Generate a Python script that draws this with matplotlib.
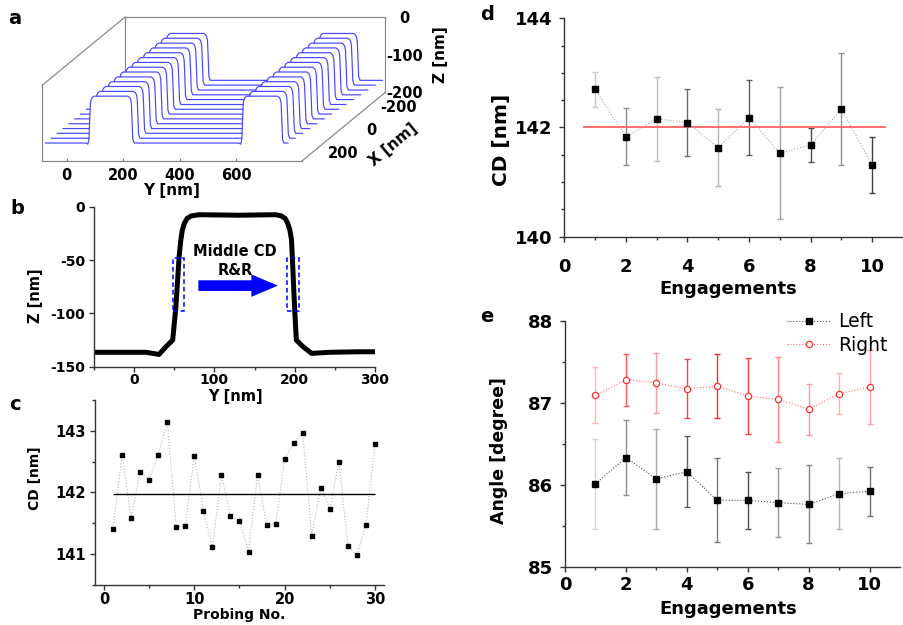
import numpy as np
import matplotlib
matplotlib.use("Agg")
import matplotlib.pyplot as plt
from matplotlib.patches import Rectangle

plt.rcParams['font.family'] = 'DejaVu Sans'
plt.rcParams['font.weight'] = 'bold'
plt.rcParams['axes.labelweight'] = 'bold'
plt.rcParams['axes.unicode_minus'] = False

# ---------------- data ----------------
# a: AFM scan lines, one line profile repeated at each X position
a_scan_x = [275, 233, 190, 148, 106, 63, 21, -21, -63, -106, -148, -190, -233, -275]
a_line_end = [770, 775, 780, 785, 790, 795, 800, 805, 810, 815, 820, 825, 830, 835]
a_profile_y = [-88, 55, 62, 66, 69, 71, 74, 78, 84, 203, 209, 213, 216, 218, 221, 226,
               596, 603, 607, 610, 612, 615, 619, 625, 733, 739, 743, 746, 748, 751, 756]
a_profile_z = [-160, -160, -163, -150, -90, -55, -44, -39, -36, -36, -39, -44, -55, -90,
               -150, -160,
               -160, -163, -150, -90, -55, -44, -39, -36, -36, -39, -44, -55, -90,
               -150, -160]
a_y_ticks = [0, 200, 400, 600]
a_x_ticks = [-200, 0, 200]
a_z_ticks = [0, -100, -200]

# b: single profile
b_y = [-50, 15, 31, 40, 48, 52, 56, 58, 60, 62.5, 66, 71, 81, 130, 176, 183, 188,
       191, 194, 196, 197, 200, 202, 210, 221, 244, 281, 300]
b_z = [-136.5, -136.5, -138.5, -131, -125, -94, -47, -32, -22, -15.6, -11, -8.7,
       -7.5, -8, -7.5, -8.5, -11, -15, -22, -31, -47, -97, -125, -131, -137.5,
       -136.5, -136, -136]

# c: repeated probing
c_probe = list(range(1, 31))
c_cd = [141.41, 142.61, 141.58, 142.34, 142.21, 142.61, 143.15, 141.44, 141.45, 142.60,
        141.70, 141.11, 142.29, 141.62, 141.53, 141.04, 142.29, 141.48, 141.49, 142.55,
        142.80, 142.96, 141.30, 142.08, 141.74, 142.49, 141.14, 140.98, 141.47, 142.78]
c_mean = 141.97

# d: CD per engagement
d_eng = list(range(1, 11))
d_cd = [142.70, 141.83, 142.16, 142.09, 141.63, 142.18, 141.53, 141.68, 142.34, 141.31]
d_err = [0.32, 0.52, 0.77, 0.62, 0.71, 0.69, 1.21, 0.31, 1.03, 0.51]
d_ref = 142.0

# e: sidewall angles
e_eng = list(range(1, 11))
e_left = [86.01, 86.33, 86.07, 86.16, 85.81, 85.81, 85.78, 85.76, 85.89, 85.92]
e_left_err = [0.545, 0.455, 0.61, 0.43, 0.51, 0.35, 0.42, 0.475, 0.43, 0.30]
e_right = [87.09, 87.28, 87.24, 87.17, 87.20, 87.08, 87.04, 86.92, 87.11, 87.19]
e_right_err = [0.34, 0.32, 0.37, 0.36, 0.39, 0.46, 0.52, 0.31, 0.25, 0.455]

# error bar shades (style only)
d_bar_col = ['#c8c8c8', '#8c8c8c', '#c0c0c0', '#6c6c6c', '#b4b4b4',
             '#5c5c5c', '#a0a0a0', '#505050', '#909090', '#404040']
e_left_col = ['#d4d4d4', '#909090', '#a8a8a8', '#606060', '#787878',
              '#505050', '#989898', '#858585', '#b4b4b4', '#707070']
e_right_col = ['#ffb4b4', '#ff5a5a', '#ff9a9a', '#ff4040', '#ff2a2a',
               '#ff3a3a', '#ff8a8a', '#ff9a9a', '#ffb4b4', '#ffa4a4']

W, H = 904, 625
fig = plt.figure(figsize=(W / 100, H / 100), dpi=100)


def px_axes(x0, y0, x1, y1):
    ax = fig.add_axes([x0 / W, 1 - y1 / H, (x1 - x0) / W, (y1 - y0) / H])
    ax.patch.set_visible(False)
    return ax


def style(ax, size, xpad, ypad):
    for s in ('top', 'right'):
        ax.spines[s].set_visible(False)
    for s in ('left', 'bottom'):
        ax.spines[s].set_linewidth(1.0)
        ax.spines[s].set_color('#333333')
    ax.tick_params(which='both', direction='out', color='#333333', width=1,
                   labelsize=size)
    ax.tick_params(which='major', length=3.5)
    ax.tick_params(which='minor', length=2.5)
    ax.tick_params(axis='x', which='both', pad=xpad)
    ax.tick_params(axis='y', which='both', pad=ypad)


# ---------------- a ----------------
A_Y = (-88, 832)
A_X = (-300, 300)
A_Z = (-200, 0)
A_DEPTH = (294, 181)   # (Y, Z) data shift from front plane to back plane


def shift(xv):
    f = (A_X[1] - xv) / (A_X[1] - A_X[0])
    return f * A_DEPTH[0], f * A_DEPTH[1]


ax_a = px_axes(42, 17, 385, 161)
ax_a.set_xlim(A_Y[0], A_Y[1] + A_DEPTH[0])
ax_a.set_ylim(A_Z[0], A_Z[1] + A_DEPTH[1])
for s in ax_a.spines.values():
    s.set_visible(False)
ax_a.set_yticks([])
ax_a.set_xticks(a_y_ticks)
ax_a.tick_params(axis='x', direction='in', length=3, color='#777777', labelsize=10.5, pad=5)

box = dict(color='#8a8a8a', lw=0.9, clip_on=False)
by, bz = shift(A_X[0])
ax_a.plot([A_Y[0], A_Y[0]], [A_Z[0], A_Z[1]], zorder=1, **box)
ax_a.plot([A_Y[0], A_Y[1]], [A_Z[0], A_Z[0]], zorder=1, **box)
ax_a.plot([A_Y[0], A_Y[0] + by], [A_Z[1], A_Z[1] + bz], zorder=1, **box)
ax_a.plot([A_Y[0] + by, A_Y[1] + by], [A_Z[1] + bz, A_Z[1] + bz], zorder=1, **box)
ax_a.plot([A_Y[0] + by, A_Y[0] + by], [A_Z[0] + bz, A_Z[1] + bz], zorder=1, **box)
ax_a.plot([A_Y[1] + by, A_Y[1] + by], [A_Z[0] + bz, A_Z[1] + bz], zorder=60, **box)
ax_a.plot([A_Y[1], A_Y[1] + by], [A_Z[0], A_Z[0] + bz], zorder=60, **box)

lines = list(zip(a_scan_x, a_line_end))[::-1]
for k, (xv, yend) in enumerate(lines):
    dy, dz = shift(xv)
    py = np.array(a_profile_y + [yend]) + dy
    pz = np.array(a_profile_z + [a_profile_z[-1]]) + dz
    ax_a.fill_between(py, pz, A_Z[0] + dz, color='white', lw=0, zorder=2 + 2 * k)
    ax_a.plot(py, pz, color='#4646ff', lw=0.85, zorder=3 + 2 * k)

for xv in a_x_ticks:
    dy, dz = shift(xv)
    ax_a.annotate(str(xv), (A_Y[1] + dy, A_Z[0] + dz), xytext=(20, -2.5),
                  textcoords='offset points', ha='center', va='center',
                  fontsize=10.5, annotation_clip=False)
for zv in a_z_ticks:
    ax_a.annotate(str(zv), (A_Y[1] + by, zv + bz), xytext=(14, -1),
                  textcoords='offset points', ha='center', va='center',
                  fontsize=10.5, annotation_clip=False)
dy0, dz0 = shift(0)
ax_a.annotate('X [nm]', (A_Y[1] + dy0, A_Z[0] + dz0), xytext=(36, -13),
              textcoords='offset points', ha='center', va='center', rotation=40,
              fontsize=11, annotation_clip=False)
ax_a.annotate('Z [nm]', (A_Y[1] + by, -100 + bz), xytext=(40, 0),
              textcoords='offset points', ha='center', va='center', rotation=90,
              fontsize=11, annotation_clip=False)
ax_a.annotate('Y [nm]', ((A_Y[0] + A_Y[1]) / 2, A_Z[0]), xytext=(0, -21),
              textcoords='offset points', ha='center', va='center',
              fontsize=11, annotation_clip=False)

# ---------------- b ----------------
ax_b = px_axes(94, 206.7, 375, 366.7)
ax_b.plot(b_y, b_z, color='black', lw=3.6, solid_joinstyle='round')
ax_b.set_xlim(-50, 300)
ax_b.set_ylim(-150, 0)
ax_b.set_xticks([0, 100, 200, 300])
ax_b.set_xticks([-50, 50, 150, 250], minor=True)
ax_b.set_yticks([0, -50, -100, -150])
style(ax_b, 10, 1.0, 3)
for x0 in (48, 191):
    ax_b.add_patch(Rectangle((x0, -97.5), 14.5, 49.5, fill=False, ec='#0000ff',
                             ls=(0, (3, 2)), lw=1.1, zorder=4))
ax_b.arrow(80, -74, 99, 0, width=10, head_width=21, head_length=33,
           length_includes_head=True, color='#0000ff', lw=0, zorder=4)
ax_b.text(126, -51, 'Middle CD\nR&R', ha='center', va='center', fontsize=10.5,
          linespacing=1.3)
ax_b.set_xlabel('Y [nm]', fontsize=10.5)
ax_b.xaxis.set_label_coords(0.502, -0.138)
ax_b.set_ylabel('Z [nm]', fontsize=10.5)
ax_b.yaxis.set_label_coords(-0.18, 0.442)

# ---------------- c ----------------
ax_c = px_axes(95, 400, 384, 585)
ax_c.plot(c_probe, c_cd, ls=':', color='#b4b4b4', lw=0.8, marker='s', ms=3.5,
          mfc='black', mec='black')
ax_c.hlines(c_mean, c_probe[0], c_probe[-1], color='black', lw=1)
ax_c.set_xlim(-1, 31)
ax_c.set_ylim(140.5, 143.5)
ax_c.set_xticks([0, 10, 20, 30])
ax_c.set_xticks([5, 15, 25], minor=True)
ax_c.set_yticks([141, 142, 143])
ax_c.set_yticks([140.5, 141.5, 142.5, 143.5], minor=True)
style(ax_c, 10.5, 1.5, 3)
ax_c.set_xlabel('Probing No.', fontsize=10)
ax_c.xaxis.set_label_coords(0.50, -0.126)
ax_c.set_ylabel('CD [nm]', fontsize=10)
ax_c.yaxis.set_label_coords(-0.182, 0.576)

# ---------------- d ----------------
ax_d = px_axes(564.3, 18.3, 903, 236.7)
for xi, yi, ei, c in zip(d_eng, d_cd, d_err, d_bar_col):
    ax_d.errorbar(xi, yi, yerr=ei, fmt='none', ecolor=c, elinewidth=1,
                  capsize=2, capthick=1)
ax_d.hlines(d_ref, 0.62, 10.45, color='#ff6b6b', lw=1.4, zorder=2)
ax_d.plot(d_eng, d_cd, ls=':', color='#a8a8a8', lw=0.8, marker='s', ms=3.8,
          mfc='black', mec='black', zorder=3)
ax_d.set_xlim(0, 11)
ax_d.set_ylim(140, 144)
ax_d.set_xticks([0, 2, 4, 6, 8, 10])
ax_d.set_xticks([1, 3, 5, 7, 9], minor=True)
ax_d.set_yticks([140, 142, 144])
ax_d.set_yticks([140.5, 141, 141.5, 142.5, 143, 143.5], minor=True)
style(ax_d, 13, 12, 5)
ax_d.set_xlabel('Engagements', fontsize=13)
ax_d.xaxis.set_label_coords(0.483, -0.198)
ax_d.set_ylabel('CD [nm]', fontsize=14.5)
ax_d.yaxis.set_label_coords(-0.158, 0.443)

# ---------------- e ----------------
ax_e = px_axes(565, 320.7, 900, 566.7)
for xi, yi, ei, c in zip(e_eng, e_left, e_left_err, e_left_col):
    ax_e.errorbar(xi, yi, yerr=ei, fmt='none', ecolor=c, elinewidth=1,
                  capsize=2, capthick=1)
for xi, yi, ei, c in zip(e_eng, e_right, e_right_err, e_right_col):
    ax_e.errorbar(xi, yi, yerr=ei, fmt='none', ecolor=c, elinewidth=1,
                  capsize=2, capthick=1)
ax_e.plot(e_eng, e_left, ls=':', color='#505050', lw=0.8, marker='s', ms=3.8,
          mfc='black', mec='black', zorder=3, label='Left')
ax_e.plot(e_eng, e_right, ls=':', color='#ff6a6a', lw=0.8, marker='o', ms=4.5,
          mfc='white', mec='#ff3030', mew=0.9, zorder=3, label='Right')
ax_e.set_xlim(0, 11)
ax_e.set_ylim(85, 88)
ax_e.set_xticks([0, 2, 4, 6, 8, 10])
ax_e.set_xticks([1, 3, 5, 7, 9], minor=True)
ax_e.set_yticks([85, 86, 87, 88])
ax_e.set_yticks([85.5, 86.5, 87.5], minor=True)
style(ax_e, 13, 3, 5)
ax_e.set_xlabel('Engagements', fontsize=13)
ax_e.xaxis.set_label_coords(0.487, -0.135)
ax_e.set_ylabel('Angle [degree]', fontsize=12.5)
ax_e.yaxis.set_label_coords(-0.169, 0.474)
ax_e.legend(loc='upper right', bbox_to_anchor=(0.985, 1.065), frameon=False,
            prop={'weight': 'normal', 'size': 13.5}, handlelength=2.3,
            handletextpad=0.4, labelspacing=0.25, borderaxespad=0)

# panel letters
for lab, x, y in [('a', 15, 18), ('b', 17, 208), ('c', 15, 404), ('d', 487, 15), ('e', 487, 317)]:
    fig.text(x / W, 1 - y / H, lab, fontsize=14, ha='center', va='center')

fig.savefig('out.png', dpi=100)
